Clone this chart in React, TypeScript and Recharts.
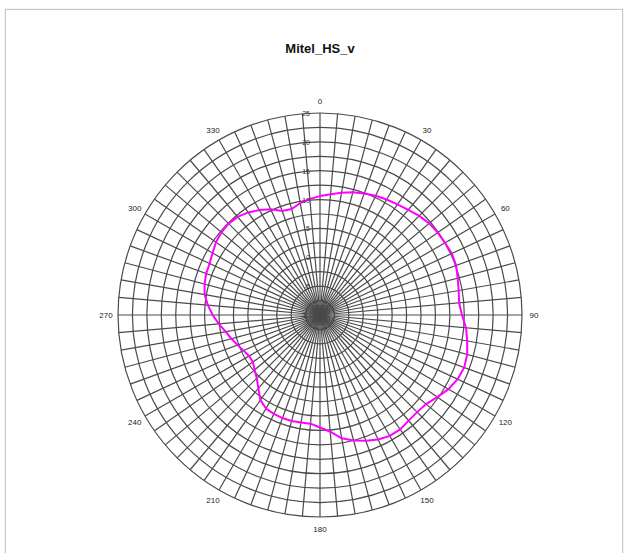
import React from 'react';
import { RadarChart, Radar, PolarGrid, PolarAngleAxis, PolarRadiusAxis } from 'recharts';

const angles = [
  0, 5, 10, 15, 20, 25, 30, 35, 40, 45, 50, 55, 60, 65, 70, 75, 80, 85,
  90, 95, 100, 105, 110, 115, 120, 125, 130, 135, 140, 145, 150, 155, 160, 165, 170, 175,
  180, 185, 190, 195, 200, 205, 210, 215, 220, 225, 230, 235, 240, 245, 250, 255, 260, 265,
  270, 275, 280, 285, 290, 295, 300, 305, 310, 315, 320, 325, 330, 335, 340, 345, 350, 355,
];

const gainDb = [
  10.6, 11.0, 11.5, 12.0, 12.4, 12.8, 13.1, 13.4, 13.8, 14.3, 14.7, 14.9, 15.0, 15.2, 15.1, 14.7, 14.4, 14.2,
  14.6, 15.4, 15.9, 16.4, 16.6, 16.3, 15.7, 14.8, 14.0, 13.8, 13.9, 14.2, 14.2, 13.8, 13.2, 12.5, 11.7, 10.3,
  9.5, 8.9, 8.9, 9.0, 9.0, 8.9, 8.7, 8.0, 6.6, 5.5, 4.8, 4.2, 4.2, 4.6, 5.2, 5.9, 6.6, 7.6,
  8.6, 9.5, 10.3, 10.7, 11.0, 11.1, 11.5, 12.0, 12.3, 12.4, 12.2, 11.7, 11.0, 10.2, 9.2, 9.0, 9.7, 10.2,
];

const angleLabels = [0, 30, 60, 90, 120, 150, 180, 210, 240, 270, 300, 330];
const radiusTicks = [-10, -7.5, -5, -2.5, 0, 2.5, 5, 7.5, 10, 12.5, 15, 17.5, 20, 22.5, 25];
const radiusLabels = [-10, -5, 0, 5, 10, 15, 20, 25];
const title = 'Mitel_HS_v';

const data = angles.map((a, i) => ({ angle: a, gain: gainDb[i] }));

const AngleTick = (props: any) => {
  const { x, y, payload } = props;
  if (!angleLabels.includes(payload.value)) return <g />;
  return (
    <text x={x} y={y} dy={3} textAnchor="middle" fontSize={8} fill="#222" fontFamily="Liberation Sans, Arial, sans-serif">
      {payload.value}
    </text>
  );
};

const RadiusTick = (props: any) => {
  const { x, y, payload } = props;
  if (!radiusLabels.includes(payload.value)) return <g />;
  return (
    <text x={x - 10} y={y} dy={3} textAnchor="end" fontSize={7} fill="#333" fontFamily="Liberation Sans, Arial, sans-serif">
      {payload.value}
    </text>
  );
};

export default function App() {
  return (
    <div style={{ position: 'absolute', left: 0, top: 0, width: 626, height: 553, background: '#fff', overflow: 'hidden' }}>
      <div
        style={{
          position: 'absolute',
          left: 5,
          top: 9,
          width: 616,
          height: 560,
          border: '1px solid #c8c8c8',
          boxShadow: '0 0 2px #ddd',
        }}
      />
      <div
        style={{
          position: 'absolute',
          left: 0,
          width: 640,
          top: 41,
          textAlign: 'center',
          fontFamily: 'Liberation Sans, Arial, sans-serif',
          fontWeight: 'bold',
          fontSize: 13,
          color: '#111',
        }}
      >
        {title}
      </div>
      <div style={{ position: 'absolute', left: 0, top: 0 }}>
        <RadarChart width={626} height={553} data={data} cx={320} cy={315} outerRadius={202} margin={{ top: 0, right: 0, bottom: 0, left: 0 }}>
          <PolarGrid gridType="circle" stroke="#4a4a4a" strokeWidth={1.2} />
          <PolarAngleAxis dataKey="angle" type="category" tick={AngleTick} tickLine={false} axisLine={false} tickSize={12} />
          <PolarRadiusAxis
            type="number"
            angle={90}
            domain={[-10, 25]}
            ticks={radiusTicks}
            axisLine={false}
            tickLine={false}
            tick={RadiusTick}
          />
          <Radar dataKey="gain" stroke="#ff00ff" strokeWidth={2} fill="none" fillOpacity={0} dot={false} isAnimationActive={false} />
        </RadarChart>
      </div>
    </div>
  );
}
